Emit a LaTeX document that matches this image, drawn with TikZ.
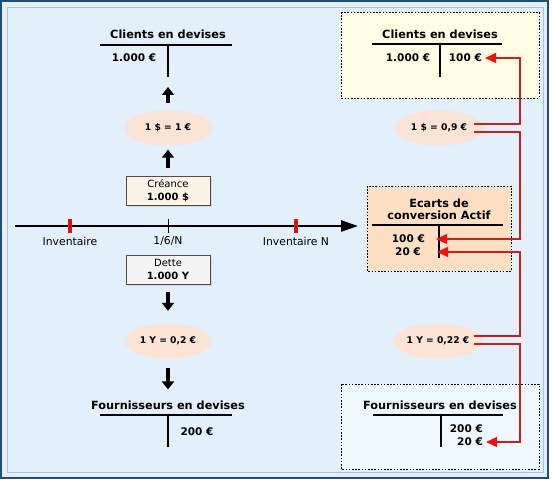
\documentclass[tikz,border=0pt]{standalone}
\usepackage{fontspec}
\setmainfont{DejaVu Sans}
\usepackage{tikz}
\usetikzlibrary{arrows.meta,shapes.geometric,calc,shadows}
\definecolor{cdbg}{HTML}{E3EFFA}
\definecolor{cdframe}{HTML}{1F4E79}
\definecolor{cdinner}{HTML}{A9C1D9}
\definecolor{cdrate}{HTML}{FBE3D6}
\definecolor{cdyellow}{HTML}{FFFDE3}
\definecolor{cdpeach}{HTML}{FDDFC3}
\definecolor{cdpale}{HTML}{EEF8FE}
\definecolor{cdcreance}{HTML}{FBF3E7}
\definecolor{cddette}{HTML}{F4F4F4}
\definecolor{cdred}{HTML}{C81E1E}
\definecolor{cdtip}{HTML}{EE1111}
\definecolor{cdmark}{HTML}{E01010}
\tikzset{
  ttitle/.style={font=\fontsize{11.3}{12}\selectfont\bfseries,inner sep=1pt,align=center},
  amount/.style={font=\fontsize{10.5}{12}\selectfont\bfseries,inner sep=1pt},
  ticklabel/.style={font=\fontsize{10.8}{12}\selectfont,inner sep=1pt},
  rate/.style={ellipse,fill=cdrate,minimum width=88pt,minimum height=35pt,inner sep=0pt,font=\fontsize{9.2}{11}\selectfont\bfseries},
  docbox/.style={draw=black!70,line width=0.8pt,minimum width=84pt,minimum height=29pt,align=center,inner sep=1pt,font=\fontsize{10}{13}\selectfont,drop shadow={shadow xshift=2pt,shadow yshift=-2pt,fill=black!25}},
  zone/.style={draw=black,line width=0.9pt,dash pattern=on 1.6pt off 1.6pt},
  tline/.style={line width=1.1pt},
  bigar/.style={-{Triangle[length=8pt,width=12pt]},line width=4pt},
  rline/.style={draw=cdred,line width=1.2pt,-{Triangle[length=11pt,width=10pt,color=cdtip]}},
}

\begin{document}
\begin{tikzpicture}[x=1pt,y=-1pt]
  \useasboundingbox (0,0) rectangle (552,481);
  \draw[cdframe,line width=1.5pt,fill=cdbg] (1,1) rectangle (548,478);
  \draw[cdinner,line width=0.8pt] (7.5,7.5) rectangle (543,472);

  % zones de droite
  \draw[zone,fill=cdyellow] (341,12) rectangle (539,98);
  \draw[zone,fill=cdpeach] (367,186) rectangle (511,271);
  \draw[zone,fill=cdpale] (341,384) rectangle (539,469);

  % colonne de gauche
  \node[ttitle] (cl) at (168,34) {Clients en devises};
  \coordinate (clfoot) at (168,77);
  \draw[tline] (100,45) -- (232,45) (168,45) -- (clfoot);
  \node[amount] (cl1000) at (134,58) {1.000 €};
  \node[rate] (e1) at (168,128) {1 \$ = 1 €};
  \node[docbox,fill=cdcreance] (creance) at (168,190.5) {Créance\\\textbf{1.000 \$}};
  \draw[bigar,shorten <=8pt,shorten >=4pt] (creance) -- (e1);
  \draw[bigar,shorten <=7.5pt,shorten >=10pt] (e1) -- (clfoot);

  % axe du temps
  \coordinate (axl) at (15,226);
  \coordinate (axr) at (358,226);
  \draw[line width=2.5pt,-{Triangle[length=17pt,width=11pt]}] (axl) -- (axr);
  \foreach \x in {70,296}
    \draw[cdmark,line width=3.5pt] (\x,219) -- (\x,233);
  \draw[line width=0.8pt] (168,219) -- (168,233);
  \node[ticklabel] (inv0) at (70,241) {Inventaire};
  \node[ticklabel] (d16) at (168,241) {1/6/N};
  \node[ticklabel] (invN) at (296,241) {Inventaire N};

  \node[docbox,fill=cddette] (dette) at (168,269.5) {Dette\\\textbf{1.000 Y}};
  \node[rate] (e2) at (168,341) {1 Y = 0,2 €};
  \node[ttitle] (fl) at (168,405) {Fournisseurs en devises};
  \draw[bigar,shorten <=8pt,shorten >=12.5pt] (dette) -- (e2);
  \draw[bigar,shorten <=9.5pt,shorten >=10pt] (e2) -- (fl);
  \draw[tline] (100,415) -- (232,415) (168,415) -- (168,447);
  \node[amount] (fl200) at (197,432) {200 €};

  % colonne de droite
  \node[ttitle] (cr) at (440,34) {Clients en devises};
  \draw[tline] (372,44) -- (502,44) (440,44) -- (440,77);
  \node[amount] (cr1000) at (408,58) {1.000 €};
  \node[amount,anchor=east] (cr100) at (483,58) {100 €};
  \node[rate] (r1) at (439,128) {1 \$ = 0,9 €};

  \node[ttitle] (ec) at (439,209.5) {Ecarts de\\conversion Actif};
  \draw[tline] (372,225) -- (503,225) (439,225) -- (439,258);
  \node[amount,anchor=east] (ec100) at (426,239) {100 €};
  \node[amount,anchor=east] (ec20) at (422,252) {20 €};

  \node[rate] (r2) at (438,341) {1 Y = 0,22 €};
  \node[ttitle] (fr) at (440,405) {Fournisseurs en devises};
  \draw[tline] (373,415) -- (503,415) (441,415) -- (441,447);
  \node[amount,anchor=east] (fr200) at (484,429) {200 €};
  \node[amount,anchor=east] (fr20) at (484,442) {20 €};

  % ecarts de change
  \coordinate (bus) at (520,0);
  \draw[rline] ([xshift=-9pt,yshift=4pt]r1.east) -| (bus |- cr100) -- ([xshift=2pt]cr100.east);
  \draw[rline] ([xshift=-9pt,yshift=-4pt]r1.east) -| (bus |- ec100) -- ([xshift=10pt]ec100.east);
  \draw[rline] ([xshift=-9pt,yshift=5pt]r2.east) -| (bus |- ec20) -- ([xshift=15pt]ec20.east);
  \draw[rline] ([xshift=-9pt,yshift=-3pt]r2.east) -| (bus |- fr20) -- ([xshift=2pt]fr20.east);
\end{tikzpicture}
\end{document}
